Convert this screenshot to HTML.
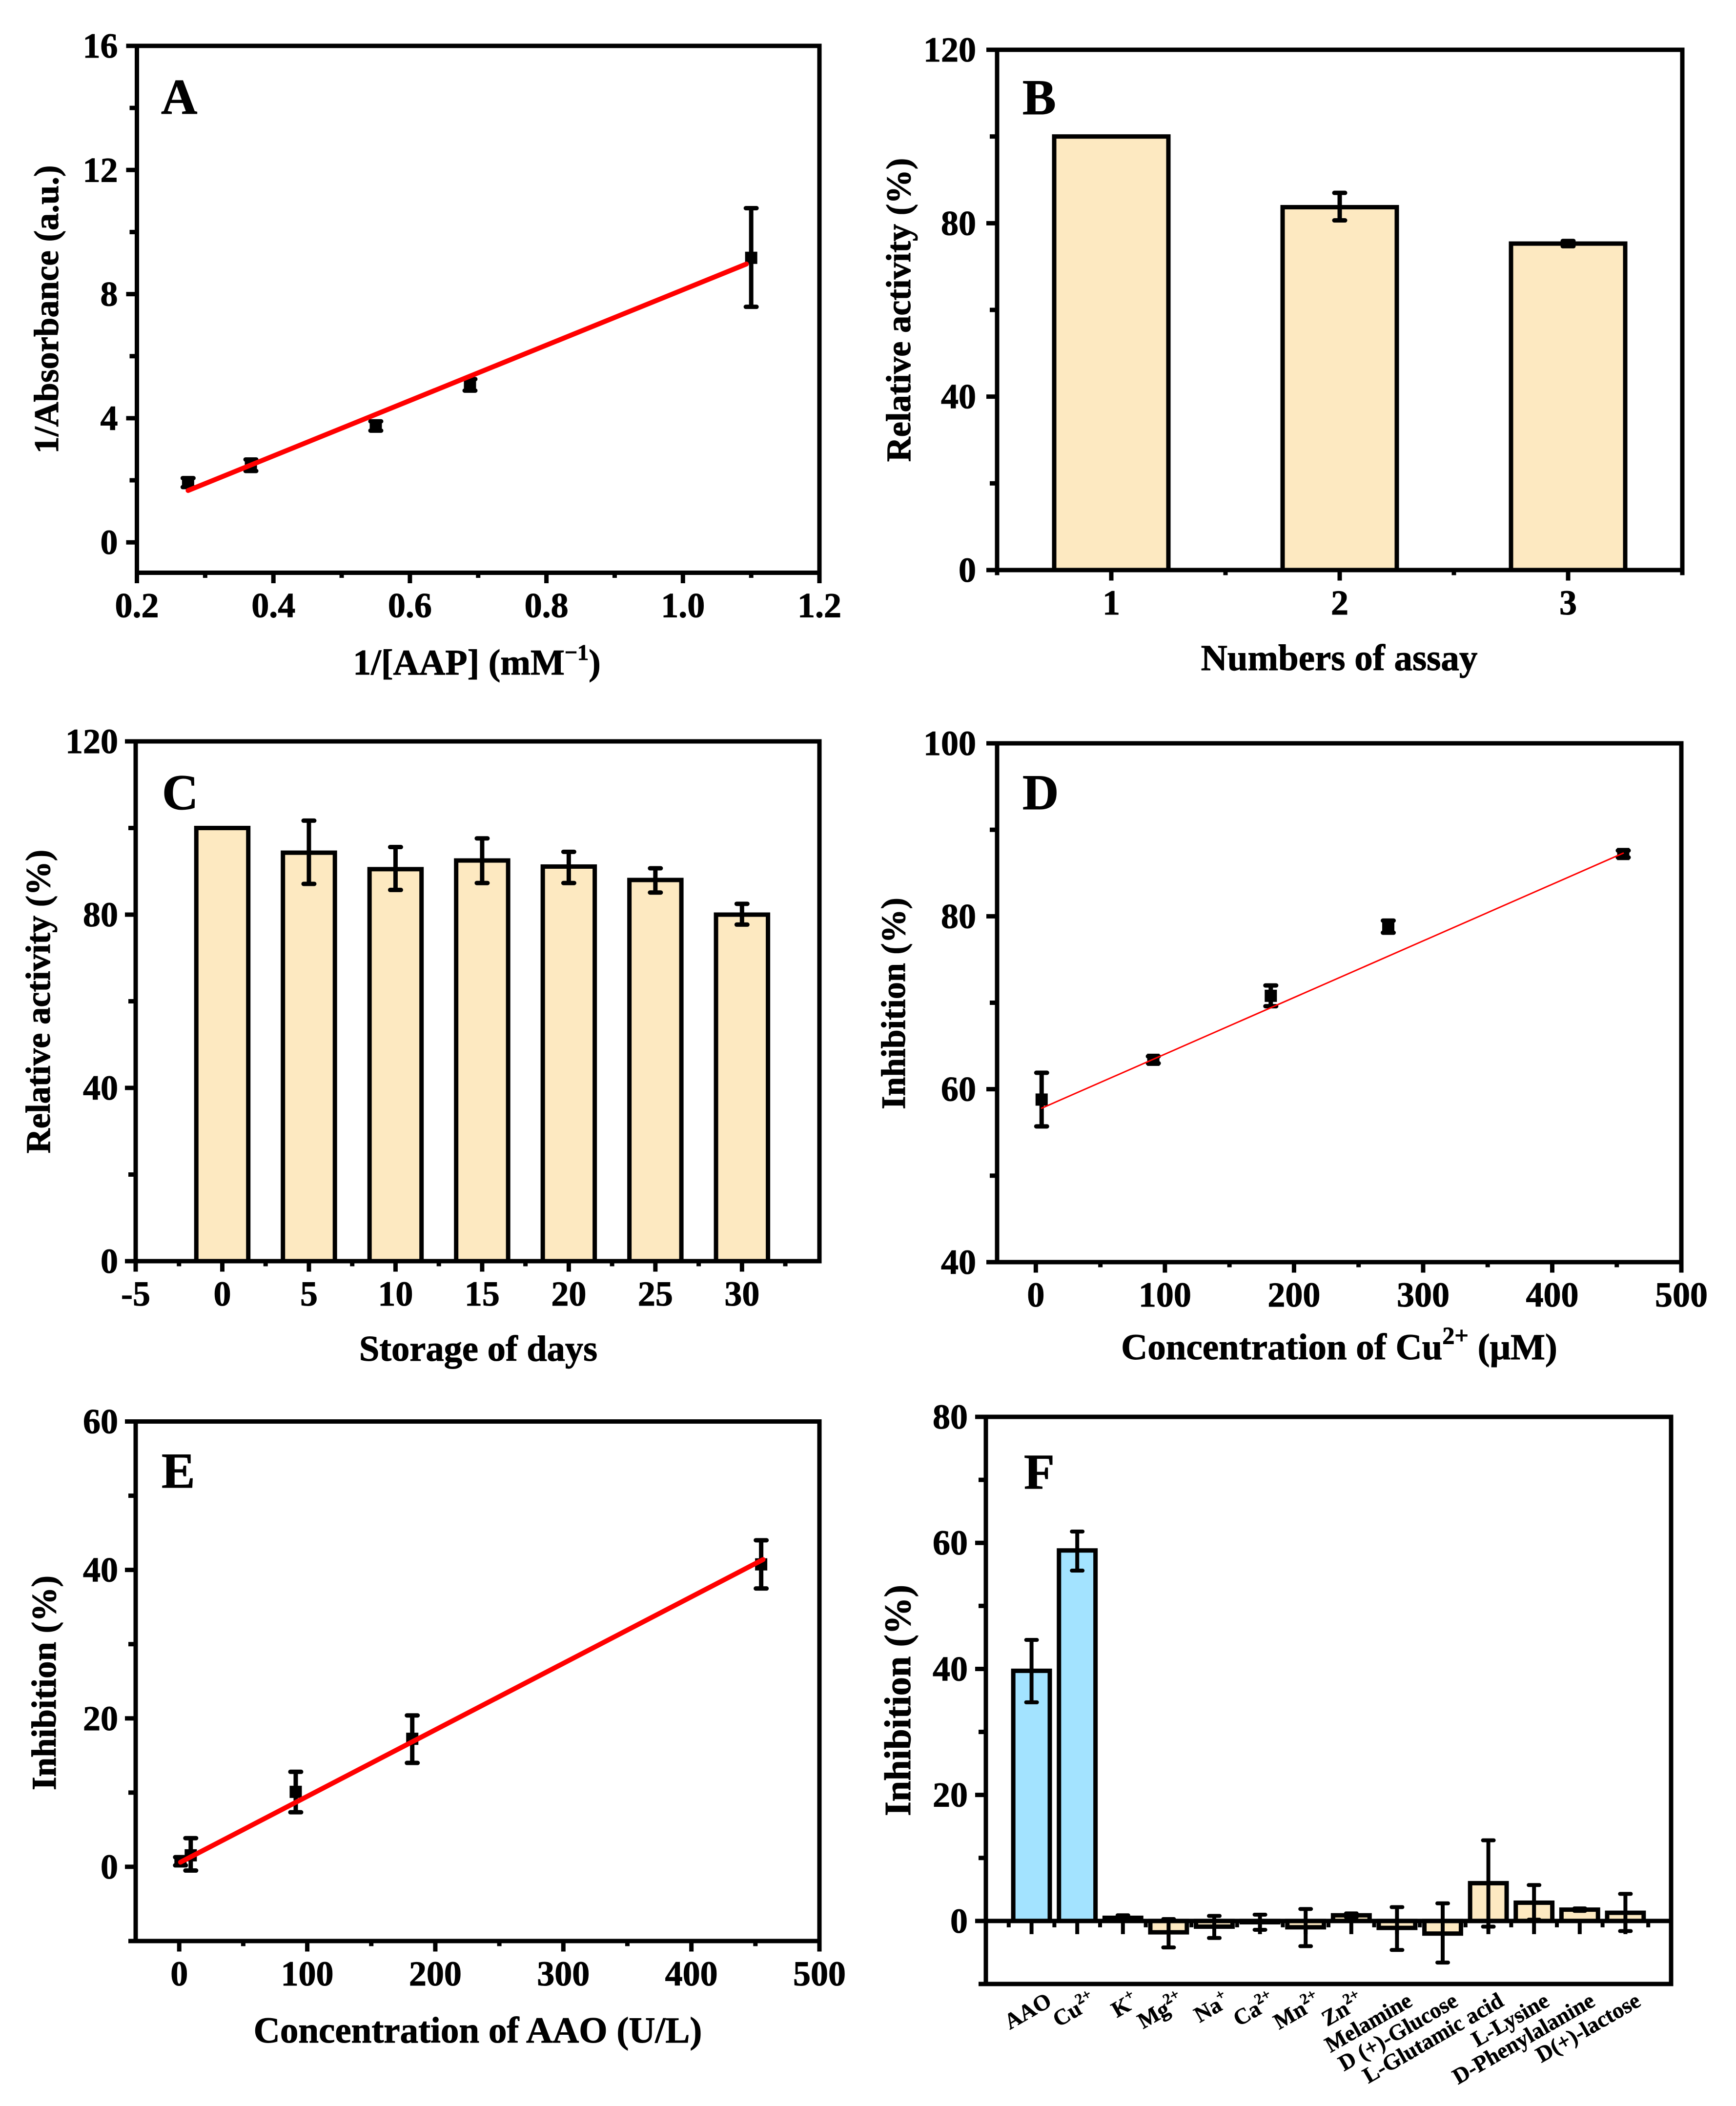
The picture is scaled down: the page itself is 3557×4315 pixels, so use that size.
<!DOCTYPE html>
<html lang="en">
<head>
<meta charset="utf-8">
<title>AAO enzyme assay multi-panel figure</title>
<style>
  html, body { margin: 0; padding: 0; background: #fff; }
  svg { display: block; }
  text { font-family: "Liberation Serif", "Times New Roman", serif; font-weight: bold; fill: #000; stroke: #000; stroke-width: 1px; }
  .axis-title { font-size: 72px; }
  .panel-letter { font-size: 103px; }
  .tick-label { font-size: 72px; }
  .cat-label { font-size: 46px; stroke-width: 0.6px; }
</style>
</head>
<body>
<svg id="figure" width="3557" height="4315" viewBox="0 0 3557 4315">
  <rect x="0" y="0" width="3557" height="4315" fill="#ffffff"/>

  <g id="panel-a">
    <text class="panel-letter" x="330" y="233">A</text>
    <text class="axis-title" x="977" y="1382" text-anchor="middle" style="font-size:74px">1/[AAP] (mM<tspan dy="-30" font-size="46">−1</tspan><tspan dy="30">)</tspan></text>
    <text class="axis-title" transform="translate(119 634) rotate(-90)" text-anchor="middle" style="font-size:70.7px">1/Absorbance (a.u.)</text>
  </g>

  <g id="panel-b">
    <text class="panel-letter" x="2095" y="234">B</text>
    <text class="axis-title" x="2744" y="1373" text-anchor="middle" style="font-size:75px">Numbers of assay</text>
    <text class="axis-title" transform="translate(1865 635) rotate(-90)" text-anchor="middle" style="font-size:70.5px">Relative activity (%)</text>
  </g>

  <g id="panel-c">
    <text class="panel-letter" x="332" y="1658">C</text>
    <text class="axis-title" x="980" y="2788" text-anchor="middle" style="font-size:74.5px">Storage of days</text>
    <text class="axis-title" transform="translate(102 2052) rotate(-90)" text-anchor="middle" style="font-size:70.5px">Relative activity (%)</text>
  </g>

  <g id="panel-d">
    <text class="panel-letter" x="2095" y="1658">D</text>
    <text class="axis-title" x="2744" y="2785" text-anchor="middle" style="font-size:75px">Concentration of Cu<tspan dy="-32" font-size="50">2+</tspan><tspan dy="32"> (μM)</tspan></text>
    <text class="axis-title" transform="translate(1854 2056) rotate(-90)" text-anchor="middle" style="font-size:70px">Inhibition (%)</text>
  </g>

  <g id="panel-e">
    <text class="panel-letter" x="331" y="3048">E</text>
    <text class="axis-title" x="979" y="4185" text-anchor="middle" style="font-size:75px">Concentration of AAO (U/L)</text>
    <text class="axis-title" transform="translate(114 3448) rotate(-90)" text-anchor="middle" style="font-size:71px">Inhibition (%)</text>
  </g>

  <g id="panel-f">
    <text class="panel-letter" x="2098" y="3050">F</text>
    <text class="axis-title" transform="translate(1865 3484) rotate(-90)" text-anchor="middle" style="font-size:76.5px">Inhibition (%)</text>
  </g>
</svg>

<script>
/* ---------- Panel A data ---------- */
const aX = [0.275, 0.367, 0.55, 0.688, 1.1];
const aY = [1.93, 2.49, 3.75, 5.07, 9.17];
const aErrLow = [1.78, 2.3, 3.6, 4.89, 7.59];
const aErrHigh = [2.07, 2.67, 3.9, 5.26, 10.77];
const aFitX = [0.275, 1.093];
const aFitY = [1.67, 8.97];
const aXMajor = [0.2, 0.4, 0.6, 0.8, 1.0, 1.2];
const aXMinor = [0.3, 0.5, 0.7, 0.9, 1.1];
const aXLabels = ['0.2', '0.4', '0.6', '0.8', '1.0', '1.2'];
const aYMajor = [0, 4, 8, 12, 16];
const aYMinor = [2, 6, 10, 14];
const aYLabels = ['0', '4', '8', '12', '16'];

/* ---------- Panel B data ---------- */
const bCategories = [1, 2, 3];
const bValues = [100, 83.7, 75.3];
const bErrLow = [100, 80.65, 74.7];
const bErrHigh = [100, 87, 75.9];
const bXMajor = [1, 2, 3];
const bXMinor = [0.5, 1.5, 2.5, 3.5];
const bXLabels = ['1', '2', '3'];
const bYMajor = [0, 40, 80, 120];
const bYMinor = [20, 60, 100];
const bYLabels = ['0', '40', '80', '120'];

/* ---------- Panel C data ---------- */
const cDays = [0, 5, 10, 15, 20, 25, 30];
const cValues = [100, 94.3, 90.5, 92.5, 91.1, 88, 80];
const cErrLow = [100, 87.1, 85.7, 87.3, 87.3, 85.1, 77.7];
const cErrHigh = [100, 101.7, 95.6, 97.6, 94.5, 90.7, 82.5];
const cXMajor = [-5, 0, 5, 10, 15, 20, 25, 30];
const cXMinor = [-2.5, 2.5, 7.5, 12.5, 17.5, 22.5, 27.5, 32.5];
const cXLabels = ['-5', '0', '5', '10', '15', '20', '25', '30'];
const cYMajor = [0, 40, 80, 120];
const cYMinor = [20, 60, 100];
const cYLabels = ['0', '40', '80', '120'];

/* ---------- Panel D data ---------- */
const dX = [4.5, 91, 182, 273, 455];
const dY = [58.8, 63.4, 70.8, 78.8, 87.2];
const dErrLow = [55.7, 63, 69.6, 78.1, 86.8];
const dErrHigh = [61.9, 63.8, 72, 79.5, 87.6];
const dFitX = [4.5, 455];
const dFitY = [57.8, 87.3];
const dXMajor = [0, 100, 200, 300, 400, 500];
const dXMinor = [50, 150, 250, 350, 450];
const dXLabels = ['0', '100', '200', '300', '400', '500'];
const dYMajor = [40, 60, 80, 100];
const dYMinor = [50, 70, 90];
const dYLabels = ['40', '60', '80', '100'];

/* ---------- Panel E data ---------- */
const eX = [1, 9, 91, 182, 454.5];
const eY = [0.75, 1.55, 10.1, 17.25, 40.75];
const eErrLow = [0.2, -0.5, 7.35, 14, 37.5];
const eErrHigh = [1.3, 3.86, 12.8, 20.4, 44];
const eFitX = [1, 456];
const eFitY = [0.62, 41.4];
const eXMajor = [0, 100, 200, 300, 400, 500];
const eXMinor = [50, 150, 250, 350, 450];
const eXLabels = ['0', '100', '200', '300', '400', '500'];
const eYMajor = [0, 20, 40, 60];
const eYMinor = [-10, 10, 30, 50];
const eYLabels = ['0', '20', '40', '60'];

/* ---------- Panel F data ---------- */
const fCategories = ['AAO', 'Cu', 'K', 'Mg', 'Na', 'Ca', 'Mn', 'Zn', 'Melamine', 'D (+)-Glucose', 'L-Glutamic acid', 'L-Lysine', 'D-Phenylalanine', 'D(+)-lactose'];
const fCategorySup = ['', '2+', '+', '2+', '+', '2+', '2+', '2+', '', '', '', '', '', ''];
const fValues = [39.7, 58.8, 0.5, -1.8, -0.9, -0.2, -1, 0.9, -1.1, -2, 6, 2.9, 1.8, 1.3];
const fErrLow = [34.7, 55.6, 0.1, -4.2, -2.7, -1.4, -4, 0.6, -4.6, -6.6, -0.9, 0.2, 1.6, -1.6];
const fErrHigh = [44.6, 61.8, 0.9, 0.3, 0.8, 1, 1.9, 1.2, 2.2, 2.8, 12.8, 5.7, 2, 4.3];
const fYMajor = [0, 20, 40, 60, 80];
const fYMinor = [-10, 10, 30, 50, 70];
const fYLabels = ['0', '20', '40', '60', '80'];
const fHighlightCount = 2;

/* ---------- Shared style constants ---------- */
const BAR_FILL = '#FDE9C1';
const BAR_BLUE = '#A3E3FF';
const NS = 'http://www.w3.org/2000/svg';

function scale(dMin, dMax, pMin, pMax) {
  return function (v) { return pMin + (v - dMin) * (pMax - pMin) / (dMax - dMin); };
}

function add(parent, tag, attrs) {
  const el = document.createElementNS(NS, tag);
  for (const k in attrs) { el.setAttribute(k, attrs[k]); }
  parent.appendChild(el);
  return el;
}

function drawYAxis(g, f, yScale, major, minor, labels, gap) {
  minor.forEach(function (v) {
    const t = add(g, 'line', { x1: f.l, x2: f.l - 15, y1: yScale(v), y2: yScale(v), stroke: '#000', 'stroke-width': 9 });
    
    
  });
  major.forEach(function (v, i) {
    const t = add(g, 'line', { x1: f.l, x2: f.l - 22, y1: yScale(v), y2: yScale(v), stroke: '#000', 'stroke-width': 9 });
    
    
    const lab = add(g, 'text', { class: 'tick-label', x: f.l - gap, y: yScale(v) + 24, 'text-anchor': 'end' });
    lab.textContent = labels[i];
    
    
  });
}

function drawXAxis(g, f, xScale, major, minor, labels) {
  minor.forEach(function (v) {
    const t = add(g, 'line', { x1: xScale(v), x2: xScale(v), y1: f.b, y2: f.b + 10.5, stroke: '#000', 'stroke-width': 9 });
    
    
  });
  major.forEach(function (v, i) {
    const t = add(g, 'line', { x1: xScale(v), x2: xScale(v), y1: f.b, y2: f.b + 21.5, stroke: '#000', 'stroke-width': 9 });
    
    
    const lab = add(g, 'text', { class: 'tick-label', x: xScale(v), y: f.b + 91, 'text-anchor': 'middle' });
    lab.textContent = labels[i];
    
    
  });
}

function drawFrame(g, f) {
  const r = add(g, 'rect', { x: f.l, y: f.t, width: f.r - f.l, height: f.b - f.t, fill: 'none', stroke: '#000', 'stroke-width': 9 });
  
  
}

function drawErrorBar(g, px, yLow, yHigh, sw, capHalf) {
  const stem = add(g, 'line', { x1: px, x2: px, y1: yLow, y2: yHigh, stroke: '#000', 'stroke-width': sw });
  
  
  const capA = add(g, 'line', { x1: px - capHalf, x2: px + capHalf, y1: yLow, y2: yLow, stroke: '#000', 'stroke-width': sw, 'stroke-linecap': 'round' });
  
  
  const capB = add(g, 'line', { x1: px - capHalf, x2: px + capHalf, y1: yHigh, y2: yHigh, stroke: '#000', 'stroke-width': sw, 'stroke-linecap': 'round' });
  
  
}

function drawScatter(g, xScale, yScale, xs, ys, lows, highs, fitX, fitY, fitWidth, size) {
  xs.forEach(function (v, i) {
    const px = xScale(v);
    if (highs[i] !== lows[i]) { drawErrorBar(g, px, yScale(lows[i]), yScale(highs[i]), 9, 11); }
    const m = add(g, 'rect', { x: px - size / 2, y: yScale(ys[i]) - size / 2, width: size, height: size, fill: '#000' });
    
    
  });
  const line = add(g, 'line', { x1: xScale(fitX[0]), y1: yScale(fitY[0]), x2: xScale(fitX[1]), y2: yScale(fitY[1]), stroke: '#FF0000', 'stroke-width': fitWidth, 'stroke-linecap': 'round' });
  
  
}

function drawBars(g, xScale, yScale, xs, ys, lows, highs, barW, fillFor, sw, capHalf) {
  const y0 = yScale(0);
  xs.forEach(function (v, i) {
    const x0 = xScale(v - barW / 2);
    const x1 = xScale(v + barW / 2);
    const py = yScale(ys[i]);
    const b = add(g, 'rect', { x: x0, y: Math.min(py, y0), width: x1 - x0, height: Math.abs(py - y0), fill: fillFor(i), stroke: '#000', 'stroke-width': 9, 'stroke-linejoin': 'miter' });
    
    
  });
  xs.forEach(function (v, i) {
    if (highs[i] !== lows[i]) { drawErrorBar(g, xScale(v), yScale(lows[i]), yScale(highs[i]), sw, capHalf); }
  });
}

function beigeFill() { return BAR_FILL; }

/* Panel A */
(function () {
  const g = document.getElementById('panel-a');
  const f = { l: 280.5, r: 1679, t: 94, b: 1173.5 };
  const x = scale(0.2, 1.2, f.l, f.r);
  const y = scale(-0.98, 16, f.b, f.t);
  drawXAxis(g, f, x, aXMajor, aXMinor, aXLabels);
  drawYAxis(g, f, y, aYMajor, aYMinor, aYLabels, 39);
  drawScatter(g, x, y, aX, aY, aErrLow, aErrHigh, aFitX, aFitY, 10, 25);
  drawFrame(g, f);
})();

/* Panel B */
(function () {
  const g = document.getElementById('panel-b');
  const f = { l: 2043, r: 3447, t: 102, b: 1168 };
  const x = scale(0.5, 3.5, f.l, f.r);
  const y = scale(0, 120, f.b, f.t);
  drawBars(g, x, y, bCategories, bValues, bErrLow, bErrHigh, 0.5, beigeFill, 9, 11);
  drawXAxis(g, f, x, bXMajor, bXMinor, bXLabels);
  drawYAxis(g, f, y, bYMajor, bYMinor, bYLabels, 43);
  drawFrame(g, f);
})();

/* Panel C */
(function () {
  const g = document.getElementById('panel-c');
  const f = { l: 278, r: 1679, t: 1519, b: 2584 };
  const x = scale(-5, 34.47, f.l, f.r);
  const y = scale(0, 120, f.b, f.t);
  drawBars(g, x, y, cDays, cValues, cErrLow, cErrHigh, 3, beigeFill, 9, 11);
  drawXAxis(g, f, x, cXMajor, cXMinor, cXLabels);
  drawYAxis(g, f, y, cYMajor, cYMinor, cYLabels, 36);
  drawFrame(g, f);
})();

/* Panel D */
(function () {
  const g = document.getElementById('panel-d');
  const f = { l: 2043, r: 3445, t: 1523, b: 2586 };
  const x = scale(-30, 500, f.l, f.r);
  const y = scale(40, 100, f.b, f.t);
  drawXAxis(g, f, x, dXMajor, dXMinor, dXLabels);
  drawYAxis(g, f, y, dYMajor, dYMinor, dYLabels, 43);
  drawScatter(g, x, y, dX, dY, dErrLow, dErrHigh, dFitX, dFitY, 3, 25);
  drawFrame(g, f);
})();

/* Panel E */
(function () {
  const g = document.getElementById('panel-e');
  const f = { l: 278, r: 1679, t: 2912.5, b: 3977 };
  const x = scale(-34, 500, f.l, f.r);
  const y = scale(-10, 60, f.b, f.t);
  drawXAxis(g, f, x, eXMajor, eXMinor, eXLabels);
  drawYAxis(g, f, y, eYMajor, eYMinor, eYLabels, 36);
  drawScatter(g, x, y, eX, eY, eErrLow, eErrHigh, eFitX, eFitY, 10, 25);
  drawFrame(g, f);
})();

/* Panel F */
(function () {
  const g = document.getElementById('panel-f');
  const f = { l: 2020, r: 3424, t: 2903, b: 4065 };
  const x = scale(0, 15, f.l, f.r);
  const y = scale(-10, 80, f.b, f.t);
  const positions = fValues.map(function (v, i) { return i + 1; });
  const y0 = y(0);
  positions.forEach(function (p) {
    const major = add(g, 'line', { x1: x(p), x2: x(p), y1: y0, y2: y0 + 27, stroke: '#000', 'stroke-width': 8 });
    
    
    const minor = add(g, 'line', { x1: x(p - 0.5), x2: x(p - 0.5), y1: y0, y2: y0 + 13, stroke: '#000', 'stroke-width': 8 });
    
    
  });
  const lastMinor = add(g, 'line', { x1: x(positions.length + 0.5), x2: x(positions.length + 0.5), y1: y0, y2: y0 + 13, stroke: '#000', 'stroke-width': 8 });
  
  

  drawBars(g, x, y, positions, fValues, fErrLow, fErrHigh, 0.8, function (i) {
    return i < fHighlightCount ? BAR_BLUE : BAR_FILL;
  }, 8, 11);

  const zero = add(g, 'line', { x1: f.l, x2: f.r, y1: y0, y2: y0, stroke: '#000', 'stroke-width': 9 });
  
  

  drawYAxis(g, f, y, fYMajor, fYMinor, fYLabels, 37);
  drawFrame(g, f);

  const labelNudge = { AAO: 10, Cu: 7, Zn: -6 };
  fCategories.forEach(function (name, i) {
    const px = x(i + 1) + 34 + (labelNudge[name] || 0);
    const lab = add(g, 'text', { class: 'cat-label', 'text-anchor': 'end', transform: 'translate(' + px + ' 4108) rotate(-30)' });
    
    
    const main = add(lab, 'tspan', {});
    main.textContent = name;
    if (fCategorySup[i]) {
      const sup = add(lab, 'tspan', { dy: -19, 'font-size': 31 });
      sup.textContent = fCategorySup[i];
    }
  });
})();
</script>
</body>
</html>
